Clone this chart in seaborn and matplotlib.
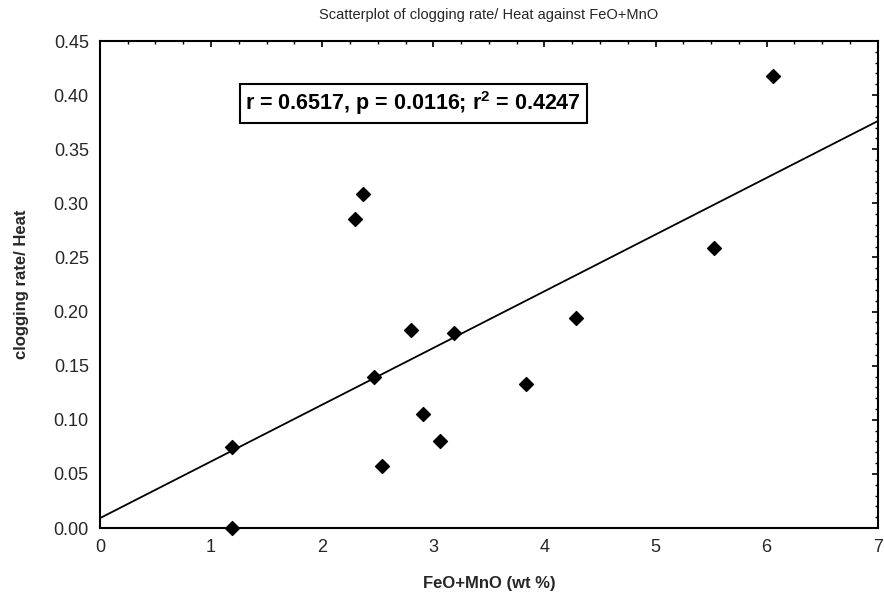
import matplotlib
matplotlib.use("Agg")
import matplotlib.pyplot as plt
from matplotlib.ticker import MultipleLocator
import seaborn as sns
import pandas as pd

# FeO+MnO (wt %) and clogging rate / heat
feo_mno = [1.19, 1.19, 2.30, 2.37, 2.47, 2.54, 2.80, 2.91, 3.06, 3.19, 3.83, 4.28, 5.53, 6.06]
clogging = [0.075, 0.000, 0.286, 0.309, 0.140, 0.057, 0.183, 0.105, 0.080, 0.180, 0.133, 0.194, 0.259, 0.418]
stats_text = "r = 0.6517, p = 0.0116; r$^{2}$ = 0.4247"

df = pd.DataFrame({"FeO+MnO": feo_mno, "clogging": clogging})

sns.set_style("white")
plt.rcParams["font.family"] = ["Liberation Sans", "DejaVu Sans"]
plt.rcParams["mathtext.fontset"] = "custom"
plt.rcParams["mathtext.rm"] = "Liberation Sans:bold"

fig = plt.figure(figsize=(8.84, 6.06), dpi=100)
ax = fig.add_axes([0.113, 0.1287, 0.88, 0.8036])
ax.set_xlim(0, 7)
ax.set_ylim(0, 0.45)

sns.regplot(data=df, x="FeO+MnO", y="clogging", ax=ax, ci=None, truncate=False,
            marker="D", color="black",
            scatter_kws={"s": 50, "alpha": 1, "edgecolors": "black", "clip_on": False, "zorder": 3},
            line_kws={"linewidth": 1.3, "color": "black"})
ax.set_xlim(0, 7)
ax.set_ylim(0, 0.45)

ax.xaxis.set_major_locator(MultipleLocator(1))
ax.xaxis.set_minor_locator(MultipleLocator(0.25))
ax.yaxis.set_major_locator(MultipleLocator(0.05))
ax.yaxis.set_minor_locator(MultipleLocator(0.01))
ax.yaxis.set_major_formatter(matplotlib.ticker.FormatStrFormatter("%.2f"))
ax.tick_params(which="both", direction="in", top=True, right=True, color="black")
ax.tick_params(which="major", length=4, width=1.2, labelsize=13, pad=8)
ax.tick_params(which="minor", length=2.5, width=1)
for s in ax.spines.values():
    s.set_color("black")
    s.set_linewidth(1.5)

ax.set_xlabel("FeO+MnO (wt %)", fontsize=12, fontweight="bold", labelpad=14)
ax.set_ylabel("clogging rate/ Heat", fontsize=12, fontweight="bold", labelpad=18)
ax.set_title("Scatterplot of clogging rate/ Heat against FeO+MnO", fontsize=10.5, pad=16)

ax.text(0.187, 0.872, stats_text, transform=ax.transAxes, fontsize=15.5, fontweight="bold",
        color="black", va="center", ha="left",
        bbox=dict(boxstyle="square,pad=0.25", facecolor="white", edgecolor="black", linewidth=1.5))

fig.savefig("out.png", dpi=100)
